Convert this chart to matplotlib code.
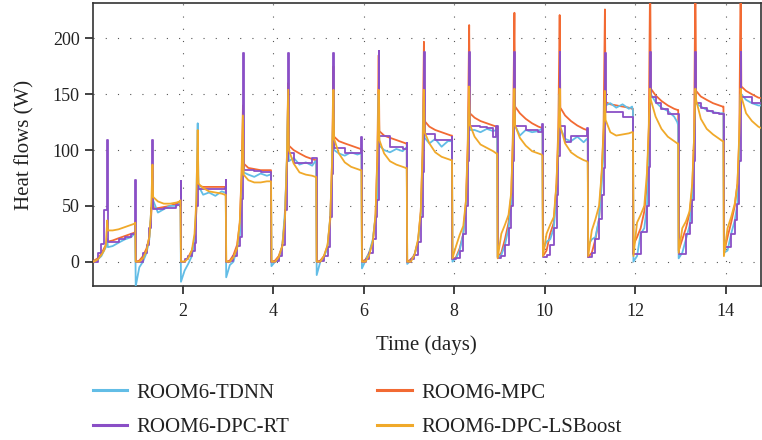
import matplotlib
matplotlib.use("Agg")
import matplotlib.pyplot as plt

plt.rcParams['font.family'] = ['Liberation Serif', 'DejaVu Serif']

# Day index and the sampling points within each day (fraction of a day)
days = list(range(15))
knot_offsets = [-0.04, 0.04, 0.12, 0.20, 0.26, 0.30, 0.33, 0.345, 0.45, 0.58, 0.72, 0.86, 0.93, 0.95]

# ROOM6-MPC (W), one row per day
mpc = [
    [0, 1, 3, 7, 12, 15, 20, 18, 19, 21, 23, 25, 26, 27],
    [0, 1, 5, 12, 22, 40, 60, 48, 48, 49, 50, 52, 53, 54],
    [0, 0, 4, 10, 18, 45, 90, 68, 67, 67, 67, 67, 67, 67],
    [0, 1, 6, 15, 35, 80, 140, 88, 84, 83, 82, 82, 82, 82],
    [0, 1, 5, 14, 40, 90, 160, 104, 100, 97, 94, 92, 91, 91],
    [0, 1, 5, 14, 38, 90, 175, 112, 108, 106, 104, 102, 101, 101],
    [0, 2, 8, 18, 40, 95, 185, 117, 113, 111, 109, 107, 106, 106],
    [0, 2, 6, 18, 45, 100, 197, 126, 121, 118, 116, 114, 113, 113],
    [2, 4, 12, 25, 55, 110, 212, 133, 129, 126, 124, 122, 121, 121],
    [4, 8, 20, 35, 60, 120, 223, 139, 133, 128, 124, 121, 120, 119],
    [5, 10, 25, 35, 70, 120, 221, 138, 131, 126, 122, 119, 118, 118],
    [4, 8, 20, 38, 80, 120, 226, 143, 141, 140, 139, 138, 137, 137],
    [15, 22, 30, 45, 70, 120, 260, 155, 149, 144, 140, 137, 136, 136],
    [10, 20, 30, 43, 65, 110, 260, 153, 148, 145, 142, 140, 139, 139],
    [8, 22, 35, 50, 70, 110, 260, 157, 153, 150, 147, 146, 145, 145],
]

# ROOM6-DPC-LSBoost (W)
lsboost = [
    [0, 0, 2, 6, 10, 15, 37, 28, 28, 29, 31, 33, 34, 35],
    [0, 0, 3, 10, 22, 45, 87, 58, 54, 52, 52, 53, 54, 55],
    [0, 0, 3, 10, 25, 55, 118, 70, 66, 63, 62, 61, 60, 60],
    [0, 0, 4, 12, 35, 75, 131, 78, 73, 71, 71, 72, 72, 72],
    [0, 0, 4, 14, 40, 90, 154, 100, 88, 80, 78, 77, 76, 76],
    [0, 0, 5, 15, 40, 90, 154, 110, 97, 89, 85, 83, 82, 82],
    [0, 0, 6, 18, 42, 90, 154, 109, 97, 90, 87, 85, 84, 84],
    [0, 0, 6, 20, 45, 95, 154, 116, 106, 98, 94, 92, 91, 91],
    [3, 14, 24, 32, 55, 100, 157, 123, 112, 105, 102, 99, 97, 97],
    [3, 25, 33, 42, 62, 110, 155, 122, 111, 104, 99, 97, 96, 95],
    [5, 25, 33, 40, 70, 110, 155, 121, 106, 98, 94, 91, 90, 89],
    [5, 28, 38, 50, 80, 115, 153, 127, 116, 113, 114, 115, 116, 116],
    [5, 35, 42, 50, 80, 120, 155, 145, 130, 119, 112, 108, 106, 106],
    [8, 30, 36, 45, 70, 110, 155, 145, 128, 119, 114, 110, 108, 108],
    [5, 30, 40, 52, 70, 115, 155, 148, 133, 126, 121, 118, 117, 117],
]

# ROOM6-DPC-RT (W), step-wise
dpc_rt = [
    [0, 0, 8, 16, 46, 46, 109, 18, 18, 20, 22, 25, 25, 73],
    [0, 0, 8, 15, 30, 48, 109, 47, 47, 48, 48, 51, 51, 72],
    [0, 2, 5, 10, 17, 50, 105, 65, 65, 65, 65, 65, 66, 73],
    [0, 1, 5, 14, 22, 56, 187, 82, 82, 81, 80, 80, 80, 80],
    [0, 1, 5, 15, 46, 90, 187, 97, 88, 88, 88, 93, 93, 93],
    [0, 1, 5, 13, 40, 79, 187, 102, 102, 97, 97, 97, 97, 112],
    [0, 2, 8, 20, 40, 55, 189, 113, 113, 103, 103, 101, 101, 106],
    [0, 2, 6, 18, 40, 80, 188, 114, 114, 109, 109, 109, 109, 112],
    [2, 3, 10, 25, 50, 90, 188, 122, 122, 121, 120, 112, 122, 122],
    [3, 5, 15, 30, 50, 90, 188, 122, 122, 118, 118, 116, 123, 123],
    [4, 6, 15, 30, 60, 95, 188, 122, 107, 113, 113, 113, 120, 120],
    [4, 8, 20, 38, 60, 84, 187, 134, 134, 134, 130, 130, 130, 130],
    [7, 7, 27, 27, 50, 85, 188, 148, 142, 137, 132, 132, 132, 132],
    [7, 7, 25, 35, 55, 90, 188, 142, 138, 135, 133, 132, 132, 132],
    [13, 13, 25, 37, 52, 90, 188, 148, 148, 142, 142, 142, 142, 142],
]

# ROOM6-TDNN (W)
tdnn = [
    [0, 0, 2, 5, 10, 13, 20, 13, 14, 17, 20, 22, 25, 26],
    [-22, -5, 0, 8, 20, 45, 60, 55, 44, 47, 50, 50, 52, 52],
    [-18, -8, -2, 5, 18, 50, 124, 68, 60, 62, 59, 63, 62, 62],
    [-14, -3, 0, 12, 22, 56, 106, 80, 78, 76, 79, 77, 78, 78],
    [-4, 0, 2, 14, 46, 90, 150, 90, 93, 87, 89, 86, 90, 90],
    [-12, 0, 4, 13, 40, 79, 150, 100, 97, 95, 98, 96, 97, 97],
    [-6, 1, 8, 20, 40, 55, 150, 104, 100, 98, 101, 99, 102, 102],
    [-2, 1, 6, 18, 40, 80, 150, 111, 106, 110, 103, 108, 108, 108],
    [0, 3, 10, 25, 50, 90, 150, 118, 118, 116, 119, 117, 118, 118],
    [4, 6, 15, 30, 50, 90, 150, 122, 113, 118, 116, 117, 119, 119],
    [10, 18, 20, 30, 60, 95, 150, 120, 110, 108, 112, 107, 110, 110],
    [15, 20, 22, 38, 70, 100, 150, 140, 142, 138, 141, 137, 139, 135],
    [0, 5, 25, 30, 50, 85, 150, 150, 143, 138, 135, 130, 125, 122],
    [3, 8, 20, 32, 55, 90, 150, 142, 139, 136, 134, 133, 133, 133],
    [8, 10, 25, 37, 52, 90, 150, 150, 145, 142, 140, 140, 140, 140],
]

x_ticks = [2, 4, 6, 8, 10, 12, 14]
y_ticks = [0, 50, 100, 150, 200]
labels = ["ROOM6-TDNN", "ROOM6-DPC-RT", "ROOM6-MPC", "ROOM6-DPC-LSBoost"]
colors = {"ROOM6-TDNN": "#62bde6", "ROOM6-DPC-RT": "#8a4fc6",
          "ROOM6-MPC": "#f26a33", "ROOM6-DPC-LSBoost": "#f0a92a"}

times = [d + o for d in days for o in knot_offsets]


def flat(rows):
    return [v for row in rows for v in row]


fig = plt.figure(figsize=(7.62, 4.40), dpi=100)
ax = fig.add_axes([0.1217, 0.3507, 0.8770, 0.6418])

lw = 1.3
l_mpc, = ax.plot(times, flat(mpc), color=colors["ROOM6-MPC"], lw=lw, label="ROOM6-MPC", zorder=3)
l_tdnn, = ax.plot(times, flat(tdnn), color=colors["ROOM6-TDNN"], lw=lw, label="ROOM6-TDNN", zorder=4)
l_rt, = ax.plot(times, flat(dpc_rt), color=colors["ROOM6-DPC-RT"], lw=lw, label="ROOM6-DPC-RT",
                drawstyle="steps-post", zorder=5)
l_ls, = ax.plot(times, flat(lsboost), color=colors["ROOM6-DPC-LSBoost"], lw=lw, label="ROOM6-DPC-LSBoost", zorder=6)

ax.set_xlim(0.01, 14.78)
ax.set_ylim(-21.5, 231.5)
ax.set_xticks(x_ticks)
ax.set_yticks(y_ticks)
ax.grid(True, linestyle=(0, (1, 10)), linewidth=0.8, color="#555555")
ax.set_axisbelow(True)
for s in ax.spines.values():
    s.set_linewidth(1.2)
    s.set_color("#333333")
ax.tick_params(direction="out", length=5.5, width=1.2, labelsize=13, colors="#222222", pad=4)
ax.tick_params(axis="x", pad=7)
ax.set_xlabel("Time (days)", fontsize=15, color="#222222", labelpad=11)
ax.set_ylabel("Heat flows (W)", fontsize=15, color="#222222", labelpad=13)

handles = [l_tdnn, l_rt, l_mpc, l_ls]
leg = fig.legend(handles, labels, ncol=2, loc="upper left",
                 bbox_to_anchor=(93 / 762, 1 - 383 / 440), frameon=False,
                 fontsize=15, handlelength=1.65, handletextpad=0.45,
                 columnspacing=4.2, labelspacing=0.72, borderpad=0, borderaxespad=0)
for line in leg.get_lines():
    line.set_linewidth(2.2)
for t in leg.get_texts():
    t.set_color("#222222")

fig.savefig("out.png", dpi=100)
